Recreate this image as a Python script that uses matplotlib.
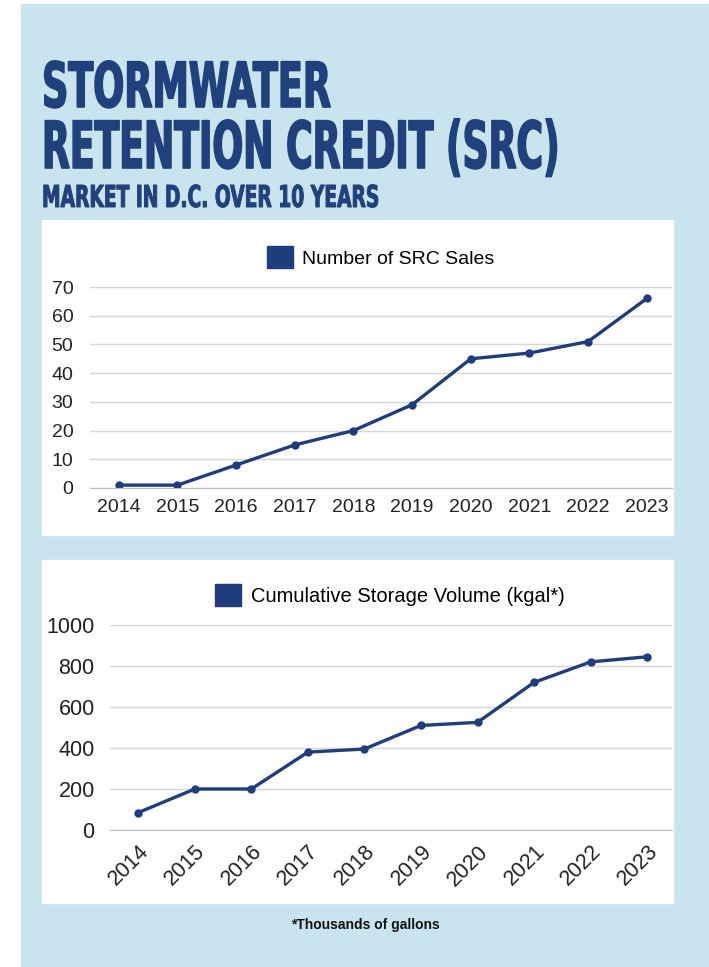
import matplotlib
matplotlib.use('Agg')
import matplotlib.pyplot as plt
from matplotlib.patches import Rectangle, Patch
from matplotlib import patheffects
from matplotlib.transforms import Affine2D

# Dados
anos = ['2014', '2015', '2016', '2017', '2018', '2019', '2020', '2021', '2022', '2023']
vendas_src = [1, 1, 8, 15, 20, 29, 45, 47, 51, 66]
volume_kgal = [85, 200, 200, 380, 395, 510, 525, 720, 820, 845]
ticks_vendas = [0, 10, 20, 30, 40, 50, 60, 70]
ticks_volume = [0, 200, 400, 600, 800, 1000]

W, H = 709, 967
AZUL = '#1f3d7c'
FUNDO = '#c9e3ef'
TITULO = '#21417c'


def px(x, y):
    # pixel (origem em cima/esquerda) -> fração da figura
    return x / W, 1 - y / H


def caixa(x0, y0, x1, y1):
    return [x0 / W, 1 - y1 / H, (x1 - x0) / W, (y1 - y0) / H]


class Condensado(patheffects.AbstractPathEffect):
    # estica/comprime o texto (imita uma fonte estreita tipo Bebas)
    def __init__(self, sx, sy, x0, y0, lw, cor):
        super().__init__()
        self.sx, self.sy, self.x0, self.y0, self.lw, self.cor = sx, sy, x0, y0, lw, cor

    def draw_path(self, renderer, gc, tpath, affine, rgbFace=None):
        aff = affine + Affine2D().translate(-self.x0, -self.y0).scale(self.sx, self.sy) \
            .translate(self.x0, self.y0)
        gc0 = renderer.new_gc()
        gc0.copy_properties(gc)
        gc0.set_linewidth(self.lw)
        gc0.set_foreground(self.cor)
        renderer.draw_path(gc0, tpath, aff, rgbFace)
        gc0.restore()


fig = plt.figure(figsize=(W / 100, H / 100), dpi=100)
fig.patch.set_facecolor('white')
fig.patches.append(Rectangle((21 / W, 0), 1 - 21 / W, 1 - 4 / H, transform=fig.transFigure,
                             color=FUNDO, zorder=-10))
for (a, b, c, d) in [(42, 220, 673, 535), (42, 560, 673, 903)]:
    fig.patches.append(Rectangle((a / W, 1 - d / H), (c - a) / W, (d - b) / H,
                                 transform=fig.transFigure, color='white', zorder=-9))

# Títulos: (texto, linha de base, altura das maiúsculas, largura), em pixels
linhas = [('STORMWATER', 107, 47, 291), ('RETENTION CREDIT (SRC)', 168, 49, 520),
          ('MARKET IN D.C. OVER 10 YEARS', 207, 23, 338)]
textos = []
for s, base, cap, larg in linhas:
    fs = 28 if cap > 30 else 16
    t = fig.text(42 / W, 1 - base / H, s, fontsize=fs, fontweight='bold', color=TITULO,
                 family='DejaVu Sans', va='baseline', ha='left')
    textos.append((t, base, cap, larg, fs))
fig.canvas.draw()
r = fig.canvas.get_renderer()
for t, base, cap, larg, fs in textos:
    w = t.get_window_extent(r).width
    lw = 1.2 if cap > 30 else 0.7
    sx = (larg - lw * 1.39) / w
    sy = (cap - lw * 1.39) / (1.0125 * fs)
    t.set_path_effects([Condensado(sx, sy, 42, H - base, lw, TITULO)])

plt.rcParams['font.family'] = ['Liberation Sans', 'DejaVu Sans']

# Gráfico 1 - número de vendas
ax1 = fig.add_axes(caixa(90, 287, 672, 488))
ax1.plot(range(len(anos)), vendas_src, color=AZUL, lw=2.4, marker='o', ms=5)
ax1.set_xlim(-0.49, 9.43)
ax1.set_ylim(0, 70)
ax1.set_yticks(ticks_vendas)
ax1.set_xticks(range(len(anos)))
ax1.set_xticklabels(anos)
ax1.grid(axis='y', color='#d6d6d6', lw=1)
ax1.tick_params(length=0, labelsize=14, colors='#222222')
ax1.tick_params(axis='y', pad=12)
ax1.tick_params(axis='x', pad=8)
for s in ax1.spines.values():
    s.set_visible(False)
ax1.spines['bottom'].set_visible(True)
ax1.spines['bottom'].set_color('#bdbdbd')
ax1.set_axisbelow(True)
ax1.patch.set_alpha(0)
ax1.legend(handles=[Patch(color=AZUL, label='Number of SRC Sales')], loc='center',
           bbox_to_anchor=px(381, 257), bbox_transform=fig.transFigure, frameon=False,
           fontsize=14, handlelength=1.3, handleheight=1.3, handletextpad=0.5)

# Gráfico 2 - volume acumulado
ax2 = fig.add_axes(caixa(110, 625, 672, 830))
ax2.plot(range(len(anos)), volume_kgal, color=AZUL, lw=2.4, marker='o', ms=5)
ax2.set_xlim(-0.5, 9.44)
ax2.set_ylim(0, 1000)
ax2.set_yticks(ticks_volume)
ax2.set_xticks(range(len(anos)))
ax2.set_xticklabels(anos, rotation=45, ha='right', rotation_mode='anchor')
ax2.grid(axis='y', color='#d6d6d6', lw=1)
ax2.tick_params(length=0, labelsize=15.5, colors='#222222')
ax2.tick_params(axis='y', pad=11)
ax2.tick_params(axis='x', pad=8)
for s in ax2.spines.values():
    s.set_visible(False)
ax2.spines['bottom'].set_visible(True)
ax2.spines['bottom'].set_color('#bdbdbd')
ax2.set_axisbelow(True)
ax2.patch.set_alpha(0)
ax2.legend(handles=[Patch(color=AZUL, label='Cumulative Storage Volume (kgal*)')], loc='center',
           bbox_to_anchor=px(390, 595), bbox_transform=fig.transFigure, frameon=False,
           fontsize=14.5, handlelength=1.3, handleheight=1.3, handletextpad=0.5)

fig.text(*px(365, 925), '*Thousands of gallons', fontsize=10, fontweight='bold',
         ha='center', va='center', color='#111111')

fig.savefig('out.png', dpi=100)
